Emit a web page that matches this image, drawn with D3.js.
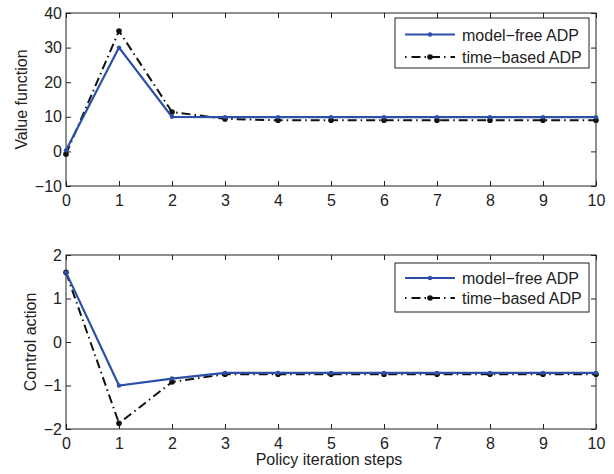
<!DOCTYPE html>
<html><head><meta charset="utf-8">
<script src="https://cdn.jsdelivr.net/npm/d3@7"></script>
<style>body{margin:0;background:#fff;} text{font-family:"Liberation Sans",Arial,sans-serif;fill:#222;}</style>
</head><body>
<svg id="c" width="614" height="474"></svg>
<script>
const steps = [0,1,2,3,4,5,6,7,8,9,10];
const xTicks = [0,1,2,3,4,5,6,7,8,9,10];
const valueModelFree = [0.3,30,10,9.9,9.9,9.9,9.9,9.9,9.9,9.9,9.9];
const valueTimeBased = [-0.8,34.8,11.4,9.4,9.0,9.0,9.0,9.0,9.0,9.0,9.0];
const valueTicks = [-10,0,10,20,30,40];
const controlModelFree = [1.6,-1.0,-0.84,-0.71,-0.71,-0.71,-0.71,-0.71,-0.71,-0.71,-0.71];
const controlTimeBased = [1.6,-1.87,-0.92,-0.74,-0.74,-0.74,-0.74,-0.74,-0.74,-0.74,-0.74];
const controlTicks = [-2,-1,0,1,2];
const seriesNames = ["model\u2212free ADP","time\u2212based ADP"];

const svg = d3.select("#c");
const blue = "#2d4fa8";
const FS = "16px";
const x = d3.scaleLinear().domain([0,10]).range([66,596]);

function panel(top, bottom, domain, ticks, ylabel, yLabelX, mf, tb, leg){
  const y = d3.scaleLinear().domain(domain).range([bottom, top]);
  const g = svg.append("g");
  const ax = g.append("g").attr("transform",`translate(0,${bottom})`)
    .call(d3.axisBottom(x).tickValues(xTicks).tickSize(-5).tickPadding(8.5).tickFormat(d3.format("d")));
  const axT = g.append("g").attr("transform",`translate(0,${top})`)
    .call(d3.axisTop(x).tickValues(xTicks).tickSize(-5).tickFormat(""));
  const ay = g.append("g").attr("transform",`translate(66,0)`)
    .call(d3.axisLeft(y).tickValues(ticks).tickSize(-5).tickPadding(4).tickFormat(d3.format("d")));
  const ayR = g.append("g").attr("transform",`translate(596,0)`)
    .call(d3.axisRight(y).tickValues(ticks).tickSize(-5).tickFormat(""));
  [ax,axT,ay,ayR].forEach(a=>{
    a.select(".domain").remove();
    a.selectAll("line").attr("stroke","#222");
    a.selectAll("text").style("font-size",FS).attr("fill","#222")
      .style("font-family","'Liberation Sans',Arial,sans-serif");
  });
  g.append("rect").attr("x",66).attr("y",top).attr("width",530).attr("height",bottom-top)
    .attr("fill","none").attr("stroke","#222").attr("stroke-width",1);
  g.append("text").attr("transform",`translate(${yLabelX},${(top+bottom)/2}) rotate(-90)`)
    .attr("text-anchor","middle").style("font-size",FS).text(ylabel);

  const line = d3.line().x((d,i)=>x(steps[i])).y(d=>y(d));
  g.append("path").datum(tb).attr("d",line).attr("fill","none").attr("stroke","#111")
    .attr("stroke-width",2).attr("stroke-dasharray","9,4,1.5,4");
  g.selectAll(".tbd").data(tb).enter().append("circle")
    .attr("cx",(d,i)=>x(steps[i])).attr("cy",d=>y(d)).attr("r",2.8).attr("fill","#111");
  g.append("path").datum(mf).attr("d",line).attr("fill","none").attr("stroke",blue)
    .attr("stroke-width",2.2);
  g.selectAll(".mfd").data(mf).enter().append("circle")
    .attr("cx",(d,i)=>x(steps[i])).attr("cy",d=>y(d)).attr("r",2.2).attr("fill",blue);

  const lx = 395, ly = leg.y, lw = 194, lh = leg.h;
  const lg = g.append("g");
  lg.append("rect").attr("x",lx).attr("y",ly).attr("width",lw).attr("height",lh)
    .attr("fill","#fff").attr("stroke","#222").attr("stroke-width",1);
  const rows = leg.rows;
  lg.append("line").attr("x1",405).attr("x2",455).attr("y1",rows[0]).attr("y2",rows[0])
    .attr("stroke",blue).attr("stroke-width",2.2);
  lg.append("circle").attr("cx",430).attr("cy",rows[0]).attr("r",2.2).attr("fill",blue);
  lg.append("line").attr("x1",405).attr("x2",455).attr("y1",rows[1]).attr("y2",rows[1])
    .attr("stroke","#111").attr("stroke-width",2).attr("stroke-dasharray","1.5,5,9,4");
  lg.append("circle").attr("cx",430).attr("cy",rows[1]).attr("r",2.8).attr("fill","#111");
  seriesNames.forEach((n,i)=>{
    lg.append("text").attr("x",462).attr("y",rows[i]+6).style("font-size",FS).text(n);
  });
}

panel(13, 186, [-10,40], valueTicks, "Value function", 27, valueModelFree, valueTimeBased,
  {y:18, h:50, rows:[34.5,57]});
panel(255, 429, [-2,2], controlTicks, "Control action", 36, controlModelFree, controlTimeBased,
  {y:263, h:49, rows:[278,298]});

svg.append("text").attr("x",329).attr("y",465).attr("text-anchor","middle")
  .style("font-size",FS).text("Policy iteration steps");
</script>
</body></html>
